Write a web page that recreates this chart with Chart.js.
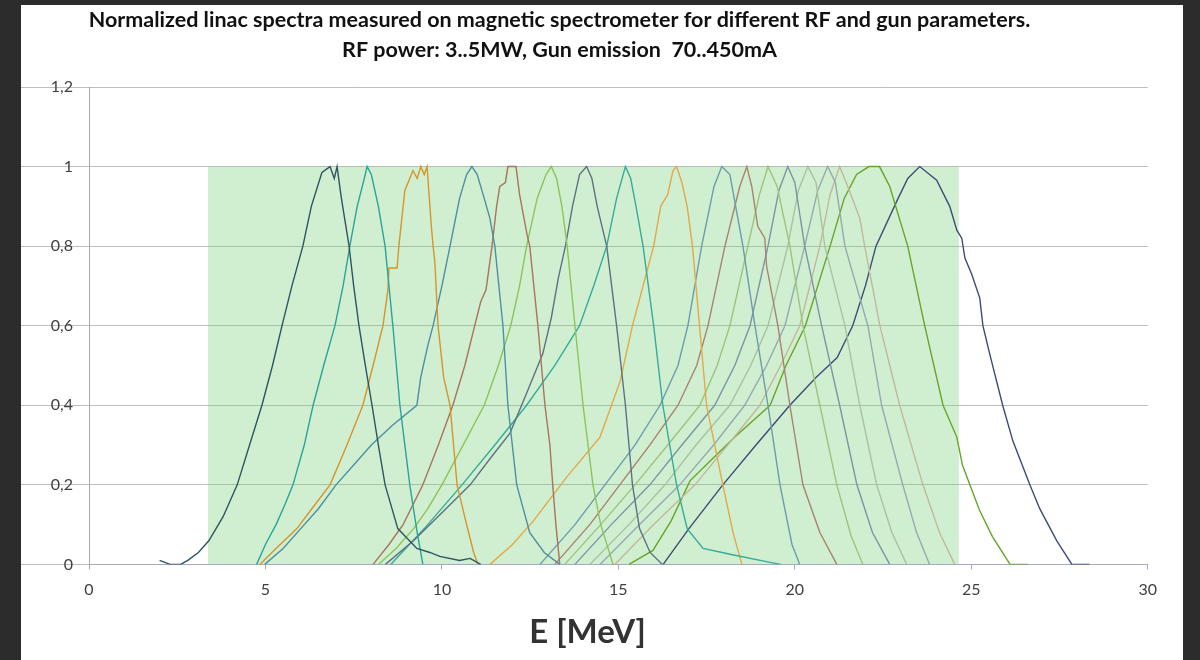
<!DOCTYPE html>
<html>
<head>
<meta charset="utf-8">
<script src="https://cdn.jsdelivr.net/npm/chart.js@4.4.0/dist/chart.umd.min.js"></script>
<style>
  html, body { margin: 0; padding: 0; background: #2c2c2c; overflow: hidden; }
  #frame { position: relative; width: 1200px; height: 660px; overflow: hidden; }
  #panel { position: absolute; left: 21px; top: 5px; width: 1162px; height: 660px; background: #fff; }
  #wrap { position: absolute; left: -51px; top: 0; width: 1219px; height: 660px; }
</style>
</head>
<body>
<div id="frame">
  <div id="panel"></div>
  <div id="wrap"><canvas id="spectra" width="1219" height="660"></canvas></div>
</div>
<script>
const titleLines = [
    'Normalized linac spectra measured on magnetic spectrometer for different RF and gun parameters.',
    'RF power: 3..5MW, Gun emission  70..450mA'
];
const xTitle = 'E [MeV]';
const yTickLabels = ['0', '0,2', '0,4', '0,6', '0,8', '1', '1,2'];

// shaded working range, E from/to, normalized height 1
const bandX = [3.37, 24.65];
const bandTop = 1;

// spectra as [E, normalized intensity]
const s1 = [[2.0,0.01],[2.3,0.0],[2.6,0.0],[2.8,0.01],[3.1,0.03],[3.4,0.06],[3.8,0.12],[4.2,0.2],[4.55,0.3],[4.9,0.4],[5.2,0.5],[5.47,0.6],[5.75,0.7],[6.06,0.8],[6.3,0.9],[6.6,0.985],[6.83,1.0],[6.95,0.97],[7.03,1.0],[7.12,0.94],[7.17,0.91],[7.37,0.8],[7.5,0.7],[7.65,0.6],[7.83,0.5],[8.02,0.4],[8.2,0.3],[8.39,0.2],[8.75,0.09],[9.29,0.04],[9.66,0.03],[9.94,0.02],[10.5,0.01],[10.8,0.015],[11.1,0.0]];
const s2 = [[4.75,0],[5.0,0.05],[5.3,0.1],[5.55,0.15],[5.78,0.2],[6.1,0.3],[6.35,0.4],[6.65,0.5],[6.97,0.6],[7.2,0.7],[7.39,0.8],[7.6,0.9],[7.8,0.97],[7.88,1.0],[8.0,0.98],[8.2,0.9],[8.39,0.8],[8.61,0.6],[8.81,0.4],[8.95,0.3],[9.09,0.2],[9.3,0.08],[9.46,0]];
const s3 = [[4.84,0],[5.3,0.04],[5.89,0.09],[6.4,0.15],[6.83,0.2],[7.31,0.3],[7.76,0.4],[8.05,0.5],[8.33,0.6],[8.47,0.69],[8.5,0.745],[8.73,0.745],[8.78,0.8],[8.95,0.94],[9.18,0.99],[9.3,0.97],[9.4,1.0],[9.5,0.98],[9.58,1.0],[9.7,0.85],[9.75,0.8],[9.8,0.76],[9.89,0.6],[10.05,0.47],[10.23,0.4],[10.43,0.2],[10.7,0.1],[10.9,0.03],[11.02,0]];
const s4 = [[4.98,0],[5.5,0.04],[6.0,0.09],[6.5,0.14],[7.0,0.2],[7.5,0.25],[8.0,0.3],[8.6,0.35],[9.29,0.4],[9.4,0.47],[9.6,0.55],[9.75,0.6],[10.0,0.7],[10.23,0.8],[10.5,0.92],[10.7,0.98],[10.85,1.0],[11.0,0.98],[11.2,0.92],[11.36,0.87],[11.5,0.8],[11.73,0.6],[11.87,0.4],[12.12,0.2],[12.49,0.08],[12.9,0.03],[13.34,0]];
const s5 = [[8.05,0],[8.5,0.05],[8.9,0.1],[9.46,0.2],[9.9,0.3],[10.31,0.4],[10.65,0.5],[10.93,0.6],[11.1,0.66],[11.25,0.69],[11.42,0.8],[11.55,0.9],[11.64,0.95],[11.8,0.96],[11.87,1.0],[12.1,1.0],[12.2,0.93],[12.41,0.83],[12.49,0.8],[12.72,0.6],[12.92,0.4],[13.06,0.3],[13.14,0.2],[13.23,0.1],[13.34,0]];
const s6 = [[8.2,0],[8.7,0.04],[9.2,0.09],[9.6,0.14],[10.0,0.2],[10.6,0.3],[11.2,0.4],[11.6,0.5],[11.95,0.6],[12.2,0.7],[12.4,0.8],[12.7,0.92],[12.95,0.98],[13.1,1.0],[13.25,0.97],[13.4,0.9],[13.55,0.8],[13.77,0.6],[14.0,0.4],[14.28,0.2],[14.5,0.1],[14.85,0]];
const s7 = [[8.4,0],[9.2,0.06],[10.0,0.13],[10.8,0.2],[11.4,0.27],[11.93,0.33],[12.4,0.43],[12.86,0.53],[13.1,0.62],[13.3,0.72],[13.5,0.8],[13.7,0.9],[13.9,0.98],[14.1,1.0],[14.25,0.97],[14.4,0.9],[14.67,0.8],[14.95,0.6],[15.2,0.4],[15.4,0.2],[15.6,0.09],[15.9,0.03],[16.25,0]];
const s8 = [[8.55,0],[9.5,0.09],[10.57,0.2],[11.5,0.3],[12.4,0.4],[13.2,0.5],[13.9,0.6],[14.3,0.7],[14.67,0.8],[14.95,0.92],[15.2,1.0],[15.35,0.97],[15.5,0.9],[15.7,0.8],[16.0,0.6],[16.26,0.4],[16.65,0.2],[16.95,0.09],[17.4,0.04],[18.2,0.025],[19.3,0.005],[19.6,0]];
const s9 = [[11.36,0],[12.0,0.05],[12.6,0.11],[13.54,0.22],[14.48,0.32],[15.05,0.46],[15.4,0.6],[15.7,0.7],[16.0,0.8],[16.2,0.9],[16.4,0.93],[16.55,0.99],[16.65,1.0],[16.8,0.96],[16.95,0.9],[17.1,0.8],[17.3,0.6],[17.5,0.4],[17.96,0.2],[18.25,0.08],[18.5,0]];
const s10 = [[12.78,0],[13.77,0.1],[14.62,0.2],[15.47,0.3],[16.18,0.4],[16.69,0.5],[16.97,0.6],[17.36,0.8],[17.71,0.95],[17.93,1.0],[18.16,0.98],[18.53,0.8],[18.87,0.6],[19.24,0.4],[19.58,0.2],[19.92,0.05],[20.14,0]];
const s11 = [[13.2,0],[14.19,0.1],[15.04,0.2],[15.89,0.3],[16.69,0.4],[17.22,0.5],[17.54,0.6],[18.02,0.8],[18.44,0.95],[18.64,1.0],[18.78,0.95],[18.95,0.85],[19.15,0.82],[19.2,0.75],[19.52,0.6],[19.86,0.4],[20.23,0.2],[20.71,0.08],[21.19,0]];
const s12 = [[13.48,0],[14.5,0.1],[15.47,0.2],[16.4,0.3],[17.31,0.4],[17.8,0.5],[18.16,0.6],[18.67,0.8],[19.0,0.93],[19.24,1.0],[19.5,0.95],[19.86,0.8],[20.23,0.6],[20.71,0.4],[21.19,0.2],[21.6,0.07],[21.93,0]];
const s13 = [[13.77,0],[14.8,0.1],[15.89,0.2],[16.8,0.3],[17.73,0.4],[18.3,0.5],[18.73,0.6],[19.24,0.8],[19.55,0.94],[19.8,1.0],[20.0,0.96],[20.28,0.8],[20.76,0.6],[21.27,0.4],[21.76,0.2],[22.2,0.08],[22.69,0]];
const s14 = [[14.19,0],[15.3,0.1],[16.32,0.2],[17.2,0.3],[18.16,0.4],[18.75,0.5],[19.24,0.6],[19.8,0.8],[20.1,0.94],[20.37,1.0],[20.6,0.96],[20.85,0.8],[21.42,0.6],[21.84,0.4],[22.32,0.2],[22.75,0.08],[23.17,0]];
const s15 = [[14.48,0],[15.6,0.1],[16.74,0.2],[17.7,0.3],[18.58,0.4],[19.2,0.5],[19.72,0.6],[20.28,0.8],[20.65,0.94],[20.93,1.0],[21.15,0.96],[21.42,0.8],[22.07,0.6],[22.46,0.4],[23.06,0.2],[23.45,0.08],[23.82,0]];
const s16 = [[14.9,0],[16.0,0.1],[17.17,0.2],[18.1,0.3],[19.01,0.4],[19.6,0.5],[20.14,0.6],[20.71,0.8],[21.0,0.93],[21.27,1.0],[21.5,0.95],[21.84,0.87],[21.98,0.8],[22.41,0.6],[22.97,0.4],[23.63,0.2],[24.1,0.08],[24.53,0]];
const s17 = [[15.3,0],[15.98,0.035],[16.5,0.11],[17.03,0.21],[17.6,0.26],[18.3,0.32],[19.3,0.4],[19.75,0.5],[20.3,0.6],[20.65,0.7],[21.0,0.8],[21.4,0.92],[21.75,0.98],[22.1,1.0],[22.4,1.0],[22.69,0.95],[23.2,0.8],[23.68,0.6],[24.2,0.4],[24.59,0.32],[24.75,0.25],[24.96,0.2],[25.24,0.135],[25.6,0.07],[26.1,0],[26.6,0]];
const s18 = [[16.27,0],[17.0,0.09],[17.96,0.2],[18.9,0.3],[19.86,0.4],[20.6,0.47],[21.2,0.52],[21.64,0.6],[22.0,0.7],[22.3,0.8],[22.9,0.915],[23.2,0.97],[23.54,1.0],[24.02,0.966],[24.39,0.9],[24.59,0.84],[24.73,0.82],[24.82,0.77],[25.01,0.73],[25.24,0.67],[25.33,0.6],[25.52,0.53],[25.89,0.4],[26.18,0.31],[26.66,0.2],[26.94,0.14],[27.42,0.06],[27.85,0],[28.35,0]];

const spectra = [s1, s2, s3, s4, s5, s6, s7, s8, s9, s10, s11, s12, s13, s14, s15, s16, s17, s18];
const colors = ['#2d5563', '#2aa49a', '#d4952b', '#4d8fa3', '#a8735f', '#8cc45a', '#5d7184', '#35ab98', '#e2a84a',
                '#6c9cad', '#a8836e', '#9cc47c', '#7896a4', '#a9c2a0', '#94aab0', '#c2b89a', '#6aa32a', '#3e4b78'];

const toXY = arr => arr.map(p => ({ x: p[0], y: p[1] }));

const datasets = spectra.map((s, i) => ({
    data: toXY(s),
    borderColor: colors[i],
    borderWidth: 1.4,
    pointRadius: 0,
    tension: 0,
    fill: false,
    order: 0,
}));

datasets.push({
    data: [
        { x: bandX[0], y: 0 }, { x: bandX[0], y: bandTop },
        { x: bandX[1], y: bandTop }, { x: bandX[1], y: 0 }
    ],
    borderWidth: 0,
    borderColor: 'rgba(0,0,0,0)',
    backgroundColor: 'rgba(120, 210, 120, 0.35)',
    pointRadius: 0,
    fill: 'origin',
    order: 1,
});

// the slide title sits a bit left of the plot centre
const titleShift = {
    id: 'titleShift',
    afterLayout(chart) {
        const t = chart.titleBlock;
        if (t) { t.left -= 28; t.right -= 28; }
    }
};

new Chart(document.getElementById('spectra'), {
    type: 'line',
    data: { datasets },
    plugins: [titleShift],
    options: {
        responsive: false,
        animation: false,
        layout: { padding: { left: 72, right: 14, top: 0, bottom: 0 } },
        plugins: {
            legend: { display: false },
            tooltip: { enabled: false },
            title: {
                display: true,
                text: titleLines,
                color: '#111',
                font: { family: 'Lato', size: 21.5, weight: 'bold', lineHeight: 30 / 21.5 },
                padding: { top: 5, bottom: 22 },
            },
            subtitle: {
                display: true,
                position: 'bottom',
                text: xTitle,
                color: '#333',
                font: { family: 'Lato', size: 33, weight: 'bold', lineHeight: 1.2 },
                padding: { top: 0, bottom: 8 },
            },
        },
        scales: {
            x: {
                type: 'linear', min: 0, max: 30,
                ticks: { stepSize: 5, color: '#404040', font: { family: 'Lato', size: 16 }, padding: 11, maxRotation: 0 },
                grid: { drawOnChartArea: false, tickLength: 5, color: '#a9a9c2' },
                border: { color: '#a9a9c2' },
                afterFit: s => { s.height = 48; },
            },
            y: {
                min: 0, max: 1.2,
                ticks: {
                    stepSize: 0.2, color: '#404040', font: { family: 'Lato', size: 16 }, padding: -52,
                    callback: v => yTickLabels[Math.round(v / 0.2)],
                },
                grid: { color: '#bdbdbd', tickLength: 68 },
                border: { color: '#a8a8a8' },
                afterFit: s => { s.width = 68; },
            },
        },
    },
});
</script>
</body>
</html>
